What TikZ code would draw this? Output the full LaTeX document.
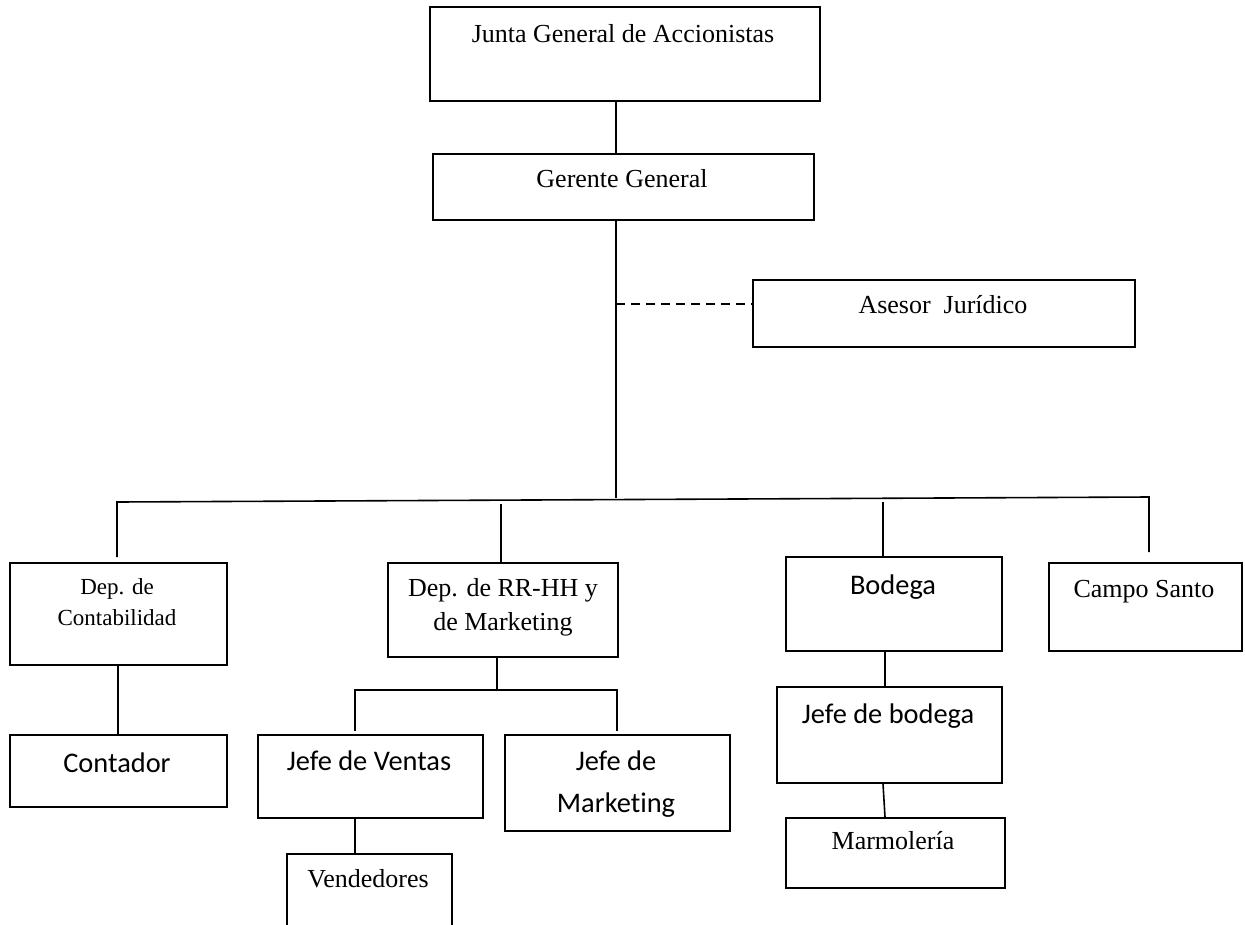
\documentclass[tikz,border=0pt]{standalone}
\usepackage{fontspec}
\setmainfont{Liberation Serif}
\newfontfamily\calibri[Ligatures=NoCommon]{Carlito}
\begin{document}
\begin{tikzpicture}[x=1pt,y=-1pt,
  box/.style={draw, line width=1.7pt, inner sep=0pt, anchor=north west},
  con/.style={line width=1.6pt},
  tser/.style={anchor=base, inner sep=0pt, font=\fontsize{26}{30}\selectfont},
  tsml/.style={anchor=base, inner sep=0pt, font=\fontsize{23}{27}\selectfont},
  tsans/.style={anchor=base, inner sep=0pt, font=\calibri\fontsize{28.4}{32}\selectfont}]
\useasboundingbox (0,0) rectangle (1245,924);

% boxes
\node[box, minimum width=390pt, minimum height=94pt] (junta) at (429,6) {};
\node[box, minimum width=381pt, minimum height=66pt] (gerente) at (432,153) {};
\node[box, minimum width=382pt, minimum height=67pt] (asesor) at (752,279) {};
\node[box, minimum width=217pt, minimum height=102pt] (conta) at (9,562) {};
\node[box, minimum width=230pt, minimum height=94pt] (rrhh) at (387,562) {};
\node[box, minimum width=216pt, minimum height=94pt] (bodega) at (785,556) {};
\node[box, minimum width=193pt, minimum height=88pt] (campo) at (1048,562) {};
\node[box, minimum width=217pt, minimum height=72pt] (contador) at (9,734) {};
\node[box, minimum width=225pt, minimum height=83pt] (jventas) at (257,734) {};
\node[box, minimum width=225pt, minimum height=96pt] (jmkt) at (504,734) {};
\node[box, minimum width=165pt, minimum height=110pt] (vend) at (286,853) {};
\node[box, minimum width=225pt, minimum height=96pt] (jbod) at (776,686) {};
\node[box, minimum width=219pt, minimum height=70pt] (marm) at (785,817) {};

% texts
\node[tser] (juntaT) at (623,42) {Junta General de Accionistas};
\node[tser] (gerenteT) at (622,187) {Gerente General};
\node[tser] (asesorT) at (943,313) {Asesor\ \ Jurídico};
\node[tsml] (contaT1) at (117,594) {Dep. de};
\node[tsml] (contaT2) at (117,625) {Contabilidad};
\node[tser] (rrhhT1) at (503,596) {Dep. de RR-HH y};
\node[tser] (rrhhT2) at (503,630) {de Marketing};
\node[tsans] (bodegaT) at (893,594) {Bodega};
\node[tser] (campoT) at (1144,597) {Campo Santo};
\node[tsans] (contadorT) at (117,772) {Contador};
\node[tsans] (jventasT) at (369,770) {Jefe de Ventas};
\node[tsans] (jmktT1) at (616,770) {Jefe de};
\node[tsans] (jmktT2) at (616,812) {Marketing};
\node[tser] (vendT) at (368,887) {Vendedores};
\node[tsans] (jbodT) at (888,723) {Jefe de bodega};
\node[tser] (marmT) at (893,849) {Marmolería};

% connectors
\coordinate (spine) at (616,0);
\draw[con] (junta.south -| spine) -- (gerente.north -| spine);
\coordinate (hub) at (616,498);
\draw[con] (gerente.south -| spine) -- (hub);
\coordinate (dl) at (616,304);
\draw[con, dash pattern=on 9pt off 6pt] (dl) -- (dl -| asesor.west);

\coordinate (barL) at (117,502);
\coordinate (barR) at (1149,497);
\coordinate (contaTop) at ([yshift=5pt]conta.north);
\coordinate (campoTop) at ([yshift=10pt]campo.north);
\draw[con] (contaTop -| barL) -- (barL) -- (barR) -- (campoTop -| barR);

\coordinate (rrS) at (501,504);
\draw[con] (rrS) -- (rrS |- rrhh.north);
\coordinate (boS) at (883,502);
\draw[con] (boS) -- (boS |- bodega.north);

\coordinate (c1) at (118,0);
\draw[con] (conta.south -| c1) -- (contador.north -| c1);

\coordinate (r1) at (497,690);
\coordinate (r2) at (355,690);
\coordinate (r3) at (617,690);
\coordinate (vL) at (355,731);
\coordinate (vR) at (617,731);
\draw[con] (rrhh.south -| r1) -- (r1);
\draw[con] (vL) -- (r2) -- (r3) -- (vR);

\coordinate (v1) at (355,0);
\draw[con] (jventas.south -| v1) -- (vend.north -| v1);

\coordinate (b1) at (885,0);
\coordinate (b2) at (883,0);
\draw[con] (bodega.south -| b1) -- (jbod.north -| b1);
\draw[con] (jbod.south -| b2) -- (marm.north -| b1);
\end{tikzpicture}
\end{document}
